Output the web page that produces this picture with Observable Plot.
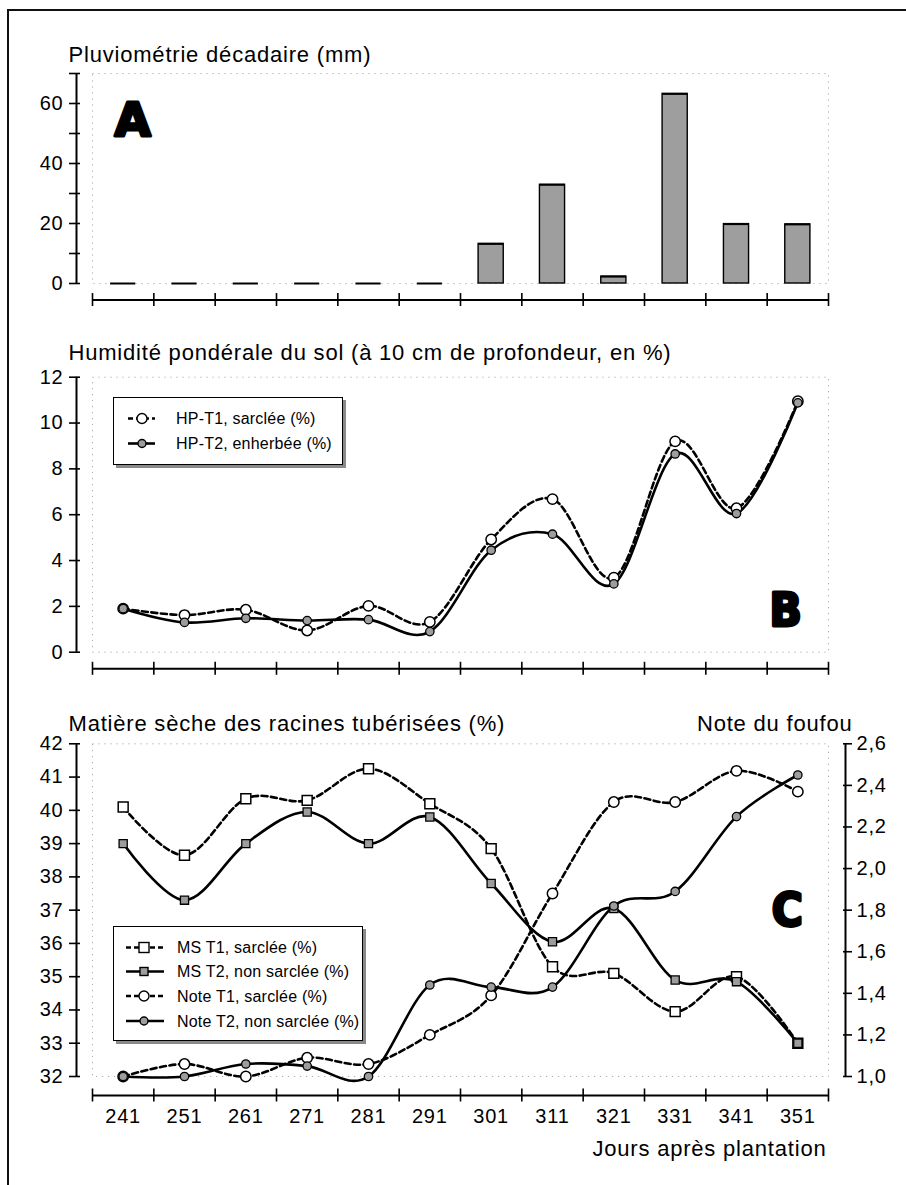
<!DOCTYPE html>
<html>
<head>
<meta charset="utf-8">
<script src="https://cdn.jsdelivr.net/npm/d3@7"></script>
<script src="https://cdn.jsdelivr.net/npm/@observablehq/plot@0.6"></script>
<style>
  html, body { margin: 0; padding: 0; background: #fff; }
  #page { position: relative; width: 906px; height: 1185px; overflow: hidden; background: #fff;
          font-family: "Liberation Sans", Arial, Helvetica, sans-serif; color: #000; }
  .panel { position: absolute; left: 0; }
  .panel svg { max-width: none; overflow: visible; }
  .panel svg text { letter-spacing: 0.8px; }
  .bTop { position: absolute; left: 7px; top: 9px; width: 899px; height: 2px; background: #111; }
  .bLeft { position: absolute; left: 7px; top: 9px; width: 2px; height: 1176px; background: #111; }
  .legend { position: absolute; background: #fff; border: 1.5px solid #000; box-shadow: 3px 3px 0 #8a8a8a; box-sizing: border-box; }
  .legend svg { position: absolute; left: 0; top: 0; overflow: visible; }
  .legend svg text { letter-spacing: 0.2px; }
</style>
</head>
<body>
<div id="page">
  <div class="bTop"></div>
  <div class="bLeft"></div>
  <div class="panel" id="pA" style="top:0px"></div>
  <div class="panel" id="pB" style="top:320px"></div>
  <div class="panel" id="pC" style="top:680px"></div>
</div>
<script>
// ---------- DATA ----------
const days = [241, 251, 261, 271, 281, 291, 301, 311, 321, 331, 341, 351];
const xTickBounds = [236, 246, 256, 266, 276, 286, 296, 306, 316, 326, 336, 346, 356];

// A : Pluviométrie décadaire (mm)
const rain = [0, 0, 0, 0, 0, 0, 13.2, 32.9, 2.3, 63.2, 19.8, 19.7];
const rainTicks = [0, 10, 20, 30, 40, 50, 60, 70];

// B : Humidité pondérale du sol (%)
const hpT1 = [1.9, 1.62, 1.85, 0.95, 2.02, 1.32, 4.92, 6.68, 3.25, 9.2, 6.28, 10.95];
const hpT2 = [1.9, 1.3, 1.48, 1.38, 1.42, 0.9, 4.45, 5.15, 2.98, 8.65, 6.05, 10.88];
const hpTicks = [0, 2, 4, 6, 8, 10, 12];

// C : Matière sèche (%) et Note du foufou
const msT1 = [40.1, 38.65, 40.35, 40.3, 41.25, 40.2, 38.85, 35.3, 35.1, 33.95, 35.0, 33.0];
const msT2 = [39.0, 37.3, 39.0, 39.95, 39.0, 39.8, 37.8, 36.05, 37.05, 34.9, 34.85, 33.0];
const noteT1 = [1.0, 1.06, 1.0, 1.09, 1.06, 1.2, 1.39, 1.88, 2.32, 2.32, 2.47, 2.37];
const noteT2 = [1.0, 1.0, 1.06, 1.05, 1.0, 1.44, 1.43, 1.43, 1.82, 1.89, 2.25, 2.45];
const msTicks = [32, 33, 34, 35, 36, 37, 38, 39, 40, 41, 42];
const noteTicks = [1.0, 1.2, 1.4, 1.6, 1.8, 2.0, 2.2, 2.4, 2.6];

// ---------- HELPERS ----------
const FONT = '"Liberation Sans", Arial, Helvetica, sans-serif';
const frFmt = d3.formatLocale({decimal: ",", thousands: " ", grouping: [3], currency: ["", " €"]}).format(".1f");
const noteToMS = d3.scaleLinear([1.0, 2.6], [32, 42]);

const rainRows = days.map((d, i) => ({day: d, rain: rain[i]}));
const hpRows = days.map((d, i) => ({day: d, t1: hpT1[i], t2: hpT2[i]}));
const cRows = days.map((d, i) => ({day: d, ms1: msT1[i], ms2: msT2[i], n1: noteToMS(noteT1[i]), n2: noteToMS(noteT2[i])}));

const LW = 2.6;           // series line width
const DASH = "6,3.5";

function leftAxis(yDomain, ticks, fmt) {
  return [
    Plot.ruleX([xTickBounds[0]], {y1: yDomain[0], y2: yDomain[1], dx: -16, stroke: "#000", strokeWidth: 2}),
    Plot.axisY({ticks, tickSize: 11, dx: -12, tickPadding: 6, tickFormat: fmt, label: null,
                stroke: "#000", strokeWidth: 1.6, fontSize: 20, fill: "#000"})
  ];
}
function bottomAxis(y0, off) {
  return [
    Plot.ruleY([y0], {x1: xTickBounds[0], x2: xTickBounds[xTickBounds.length - 1], dy: off, stroke: "#000", strokeWidth: 2}),
    Plot.axisX({ticks: xTickBounds, tickSize: 13, dy: off - 6.5, tickFormat: () => "", label: null,
                stroke: "#000", strokeWidth: 1.6})
  ];
}
function dottedFrame() {
  return Plot.frame({stroke: "#9a9a9a", strokeDasharray: "1,5", strokeWidth: 1});
}
function title(txt, anchor, dx, dy, textAnchor) {
  return Plot.text([txt], {text: d => d, frameAnchor: anchor, dx, dy, textAnchor, lineAnchor: "bottom",
                           fontSize: 22, fill: "#000"});
}
function bigLetter(ch, anchor, dx, dy, textAnchor, family) {
  return Plot.text([ch], {text: d => d, frameAnchor: anchor, dx, dy, textAnchor, lineAnchor: "bottom",
                          fontSize: 47, fontWeight: "bold", fontFamily: family, fill: "#000",
                          stroke: "#000", strokeWidth: 3});
}
const STYLE = `font-family: ${FONT}; font-size: 20px; color: #000; background: transparent; overflow: visible; max-width: none;`;

// ---------- PANEL A ----------
const plotA = Plot.plot({
  width: 906, height: 320, marginTop: 73, marginBottom: 37, marginLeft: 92, marginRight: 78,
  x: {domain: [236, 356]},
  y: {domain: [0, 70]},
  style: STYLE,
  marks: [
    dottedFrame(),
    Plot.rectY(rainRows, {x1: d => d.day - 2.05, x2: d => d.day + 2.05, y1: 0, y2: "rain",
                          fill: "#9e9e9e", stroke: "#000", strokeWidth: 1.4}),
    Plot.ruleY(rainRows, {x1: d => d.day - 2.05, x2: d => d.day + 2.05, y: "rain", stroke: "#000", strokeWidth: 2}),
    ...leftAxis([0, 70], rainTicks, d => (d % 20 === 0 ? String(d) : "")),
    ...bottomAxis(0, 16.5),
    title("Pluviométrie décadaire (mm)", "top-left", -24, -12, "start"),
    bigLetter("A", "top-left", 22, 62, "start", "DejaVu Sans")
  ]
});
document.getElementById("pA").append(plotA);

// ---------- PANEL B ----------
const plotB = Plot.plot({
  width: 906, height: 360, marginTop: 56.7, marginBottom: 28.3, marginLeft: 92, marginRight: 78,
  x: {domain: [236, 356]},
  y: {domain: [0, 12]},
  style: STYLE,
  marks: [
    dottedFrame(),
    Plot.line(hpRows, {x: "day", y: "t1", curve: "cardinal", tension: 0, stroke: "#000", strokeWidth: LW, strokeDasharray: DASH}),
    Plot.line(hpRows, {x: "day", y: "t2", curve: "cardinal", tension: 0, stroke: "#000", strokeWidth: LW}),
    Plot.dot(hpRows, {x: "day", y: "t1", r: 5.2, fill: "#fff", stroke: "#000", strokeWidth: 1.5}),
    Plot.dot(hpRows, {x: "day", y: "t2", r: 4.2, fill: "#9d9d9d", stroke: "#000", strokeWidth: 1.3}),
    ...leftAxis([0, 12], hpTicks, d => String(d)),
    ...bottomAxis(0, 16.6),
    title("Humidité pondérale du sol (à 10 cm de profondeur, en %)", "top-left", -24, -17.5, "start"),
    bigLetter("B", "bottom-right", -26, -26.5, "end", "DejaVu Sans Condensed")
  ]
});
document.getElementById("pB").append(plotB);

// ---------- PANEL C ----------
const plotC = Plot.plot({
  width: 906, height: 505, marginTop: 63.3, marginBottom: 109, marginLeft: 92, marginRight: 78,
  x: {domain: [236, 356]},
  y: {domain: [32, 42]},
  style: STYLE,
  marks: [
    dottedFrame(),
    Plot.line(cRows, {x: "day", y: "ms1", curve: "cardinal", tension: 0, stroke: "#000", strokeWidth: LW, strokeDasharray: DASH}),
    Plot.line(cRows, {x: "day", y: "n1", curve: "cardinal", tension: 0, stroke: "#000", strokeWidth: LW, strokeDasharray: DASH}),
    Plot.line(cRows, {x: "day", y: "ms2", curve: "cardinal", tension: 0, stroke: "#000", strokeWidth: LW}),
    Plot.line(cRows, {x: "day", y: "n2", curve: "cardinal", tension: 0, stroke: "#000", strokeWidth: LW}),
    Plot.dot(cRows, {x: "day", y: "ms1", symbol: "square", r: 5.6, fill: "#fff", stroke: "#000", strokeWidth: 1.5}),
    Plot.dot(cRows, {x: "day", y: "n1", r: 5.2, fill: "#fff", stroke: "#000", strokeWidth: 1.5}),
    Plot.dot(cRows, {x: "day", y: "ms2", symbol: "square", r: 4.6, fill: "#9d9d9d", stroke: "#000", strokeWidth: 1.3}),
    Plot.dot(cRows, {x: "day", y: "n2", r: 4.2, fill: "#9d9d9d", stroke: "#000", strokeWidth: 1.3}),
    ...leftAxis([32, 42], msTicks, d => String(d)),
    // right axis (Note du foufou)
    Plot.ruleX([xTickBounds[xTickBounds.length - 1]], {y1: 32, y2: 42, dx: 17, stroke: "#000", strokeWidth: 2}),
    Plot.axisY({anchor: "right", ticks: noteTicks.map(noteToMS), tickFormat: d => frFmt(noteToMS.invert(d)),
                tickSize: 9, dx: 14, tickPadding: 5, label: null, stroke: "#000", strokeWidth: 1.6, fontSize: 20, fill: "#000"}),
    ...bottomAxis(32, 19),
    Plot.axisX({ticks: days, tickSize: 0, tickPadding: 32, tickFormat: d => String(d), label: null, fontSize: 20, fill: "#000"}),
    Plot.text(["Jours après plantation"], {text: d => d, frameAnchor: "bottom-right", dx: -2, dy: 79,
                                         textAnchor: "end", lineAnchor: "bottom", fontSize: 22, fill: "#000"}),
    title("Matière sèche des racines tubérisées (%)", "top-left", -24, -13.3, "start"),
    title("Note du foufou", "top-right", 24, -13.3, "end"),
    bigLetter("C", "top-right", -25, 182, "end", "DejaVu Sans Condensed")
  ]
});
document.getElementById("pC").append(plotC);

// ---------- LEGENDS ----------
function makeLegend(items, cfg) {
  const div = d3.select("#page").append("div").attr("class", "legend")
    .style("left", cfg.left + "px").style("top", cfg.top + "px")
    .style("width", cfg.width + "px").style("height", cfg.height + "px");
  const svg = div.append("svg").attr("width", cfg.width).attr("height", cfg.height);
  items.forEach((it, i) => {
    const y = cfg.rows[i];
    svg.append("line").attr("x1", cfg.s1).attr("x2", cfg.s2).attr("y1", y).attr("y2", y)
      .attr("stroke", "#000").attr("stroke-width", LW).attr("stroke-dasharray", it.dash ? "5,3" : null);
    const fill = it.filled ? "#9d9d9d" : "#fff";
    if (it.shape === "circle") {
      svg.append("circle").attr("cx", cfg.mx).attr("cy", y).attr("r", it.filled ? 4 : 5)
        .attr("fill", fill).attr("stroke", "#000").attr("stroke-width", 1.4);
    } else {
      const s = it.filled ? 8 : 10;
      svg.append("rect").attr("x", cfg.mx - s / 2).attr("y", y - s / 2).attr("width", s).attr("height", s)
        .attr("fill", fill).attr("stroke", "#000").attr("stroke-width", 1.4);
    }
    svg.append("text").attr("x", cfg.tx).attr("y", y).attr("dy", "0.36em")
      .style("font-family", FONT).style("font-size", "16px").attr("fill", "#000").text(it.label);
  });
}
makeLegend([
  {label: "HP-T1, sarclée (%)", dash: true, shape: "circle", filled: false},
  {label: "HP-T2, enherbée (%)", dash: false, shape: "circle", filled: true}
], {left: 113, top: 397, width: 230, height: 68, rows: [20.5, 45.5], s1: 14, s2: 41, mx: 28, tx: 62});

makeLegend([
  {label: "MS T1, sarclée (%)", dash: true, shape: "square", filled: false},
  {label: "MS T2, non sarclée (%)", dash: false, shape: "square", filled: true},
  {label: "Note T1, sarclée (%)", dash: true, shape: "circle", filled: false},
  {label: "Note T2, non sarclée (%)", dash: false, shape: "circle", filled: true}
], {left: 113, top: 926, width: 250, height: 115, rows: [20.5, 44.5, 69, 94], s1: 12, s2: 50, mx: 30, tx: 63});
</script>
</body>
</html>
